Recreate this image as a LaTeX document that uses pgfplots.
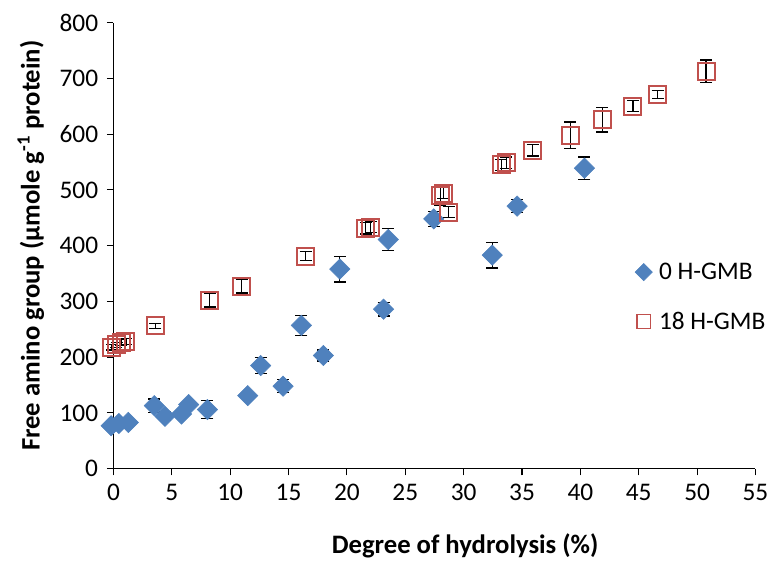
\documentclass[border=0pt]{standalone}
\usepackage{pgfplots}
\pgfplotsset{compat=1.18}
\usepackage{pgfplotstable}
\usepackage{fontspec}
\setmainfont{Carlito}
\definecolor{xblue}{HTML}{4F81BD}
\definecolor{xred}{HTML}{C0504D}
\pgfplotstableread{
x y e
-0.2 77 3
0.46 81 3
1.27 83 3
3.5 113 12
4.41 94 8
5.83 98 5
6.44 115 5
8.05 106 16
11.5 131 5
12.61 185 14
14.53 148 12
16.1 257 18
17.98 203 10
19.39 358 23
23.14 286 12
23.54 411 20
27.44 448 14
32.45 383 23
34.58 471 12
40.35 539 20
}\blue
\pgfplotstableread{
x y e
-0.14 218 5
0.26 222 5
0.67 226 5
1.07 228 5
3.6 256 5
8.26 302 12
10.99 327 12
16.46 381 8
21.62 431 10
22.03 433 10
27.99 490 18
28.25 494 10
28.71 460 10
33.21 545 10
33.67 549 10
35.9 571 10
39.13 598 24
41.87 626 22
44.5 650 10
46.62 671 7
50.77 713 20
}\red
\begin{document}
\begin{tikzpicture}
\path[use as bounding box] (-85.1pt,-69.75pt) rectangle (492.4pt,351.5pt);
\begin{axis}[
  scale only axis, width=481.5pt, height=334.5pt,
  xmin=0, xmax=55, ymin=0, ymax=800,
  xtick={0,5,...,55}, ytick={0,100,...,800},
  axis lines=left, axis line style={-, black, line width=0.8pt},
  tick align=outside, major tick length=5pt, tick style={black, line width=0.8pt},
  x axis line style={-}, y axis line style={-},
  clip=false,
  tick label style={font=\fontsize{19}{22}\selectfont},
  /pgf/number format/assume math mode=true,
  xticklabel style={yshift=-3pt},
  yticklabel style={xshift=-3pt},
  xlabel={\bfseries Degree of hydrolysis (\%)},
  ylabel={\bfseries Free amino group (µmole g\textsuperscript{-1} protein)},
  label style={font=\fontsize{20}{24}\selectfont},
  xlabel style={at={(axis description cs:0.5,0)}, anchor=center, yshift=-58pt, xshift=23pt},
  ylabel style={at={(axis description cs:0,0.5)}, anchor=center, yshift=62pt},
  legend style={draw=none, fill=none, at={(axis description cs:0.812,0.468)}, anchor=north west,
    font=\fontsize{19}{22}\selectfont, row sep=19pt, column sep=3pt, inner sep=0pt},
  legend cell align=left,
]
\addlegendimage{only marks, mark=square*, mark size=4.6pt, mark options={rotate=45, fill=xblue, draw=xblue}}
\addlegendentry{0 H-GMB}
\addlegendimage{only marks, mark=square, mark size=5.2pt, mark options={draw=xred, fill=none, line width=1.1pt}}
\addlegendentry{18 H-GMB}
\addplot[forget plot, draw=none, mark=none,
  error bars/.cd, y dir=both, y explicit,
  error bar style={black, line width=0.9pt},
  error mark options={rotate=90, black, mark size=4.5pt, line width=0.9pt}]
  table[x=x, y=y, y error=e]{\blue};
\addplot[forget plot, only marks, mark=square*, mark size=5.4pt, mark options={rotate=45, fill=xblue, draw=xblue}]
  table[x=x, y=y]{\blue};
\addplot[forget plot, only marks, mark=square, mark size=6.4pt, mark options={draw=xred, fill=none, line width=1.5pt}]
  table[x=x, y=y]{\red};
\addplot[forget plot, draw=none, mark=none,
  error bars/.cd, y dir=both, y explicit,
  error bar style={black, line width=0.9pt},
  error mark options={rotate=90, black, mark size=4.5pt, line width=0.9pt}]
  table[x=x, y=y, y error=e]{\red};
\end{axis}
\end{tikzpicture}
\end{document}
